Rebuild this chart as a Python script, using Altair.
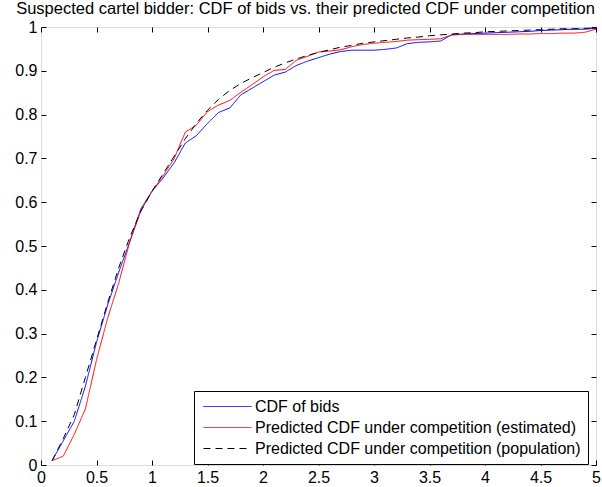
import altair as alt
import pandas as pd

X_VALUES = [0.1, 0.2, 0.3, 0.4, 0.5, 0.6, 0.7, 0.8, 0.9, 1.0,
            1.1, 1.2, 1.3, 1.4, 1.5, 1.6, 1.7, 1.8, 1.9, 2.0,
            2.1, 2.2, 2.3, 2.4, 2.5, 2.6, 2.7, 2.8, 2.9, 3.0,
            3.1, 3.2, 3.3, 3.4, 3.5, 3.6, 3.7, 3.8, 3.9, 4.0,
            4.1, 4.2, 4.3, 4.4, 4.5, 4.6, 4.7, 4.8, 4.9, 5.0]

CDF_BIDS = [0.010, 0.055, 0.100, 0.180, 0.280, 0.365, 0.440, 0.510, 0.585, 0.625,
            0.655, 0.690, 0.735, 0.752, 0.780, 0.805, 0.815, 0.845, 0.860, 0.875,
            0.890, 0.897, 0.912, 0.922, 0.930, 0.938, 0.944, 0.947, 0.947, 0.947,
            0.949, 0.952, 0.962, 0.965, 0.966, 0.968, 0.982, 0.984, 0.985, 0.986,
            0.987, 0.988, 0.989, 0.990, 0.992, 0.993, 0.994, 0.995, 0.995, 0.997]

PRED_EST = [0.010, 0.020, 0.070, 0.128, 0.240, 0.335, 0.415, 0.510, 0.580, 0.625,
            0.660, 0.700, 0.760, 0.776, 0.807, 0.822, 0.832, 0.851, 0.868, 0.886,
            0.901, 0.903, 0.924, 0.933, 0.943, 0.945, 0.948, 0.955, 0.960, 0.963,
            0.965, 0.967, 0.970, 0.971, 0.972, 0.973, 0.982, 0.983, 0.983, 0.983,
            0.983, 0.983, 0.984, 0.984, 0.985, 0.985, 0.986, 0.986, 0.988, 0.995]

PRED_POP = [0.010, 0.060, 0.115, 0.200, 0.285, 0.370, 0.450, 0.520, 0.580, 0.625,
            0.665, 0.705, 0.745, 0.780, 0.810, 0.835, 0.855, 0.871, 0.884, 0.896,
            0.908, 0.918, 0.927, 0.935, 0.942, 0.948, 0.954, 0.958, 0.963, 0.966,
            0.969, 0.972, 0.975, 0.977, 0.980, 0.982, 0.984, 0.986, 0.987, 0.989,
            0.990, 0.991, 0.992, 0.993, 0.994, 0.995, 0.996, 0.996, 0.997, 0.998]

SERIES = ["CDF of bids",
          "Predicted CDF under competition (estimated)",
          "Predicted CDF under competition (population)"]
COLORS = ["#0000ff", "#ff0000", "#000000"]
DASHES = [[1, 0], [1, 0], [7, 5]]

X_TICKS = [0, 0.5, 1, 1.5, 2, 2.5, 3, 3.5, 4, 4.5, 5]
Y_TICKS = [0, 0.1, 0.2, 0.3, 0.4, 0.5, 0.6, 0.7, 0.8, 0.9, 1]

TITLE = "Suspected cartel bidder: CDF of bids vs. their predicted CDF under competition"

rows = []
for name, vals in zip(SERIES, [CDF_BIDS, PRED_EST, PRED_POP]):
    for xv, yv in zip(X_VALUES, vals):
        rows.append({"x": xv, "y": yv, "series": name})
df = pd.DataFrame(rows)

FONT = "Liberation Sans"
xscale = alt.Scale(domain=[0, 5], nice=False, zero=False)
yscale = alt.Scale(domain=[0, 1], nice=False, zero=False)

common_axis = dict(offset=-5, tickSize=5, domain=False, grid=False, title=None,
                   tickColor="black", tickWidth=1, labelFont=FONT, labelFontSize=16,
                   labelColor="black", labelFlush=False, format="~g")

legend = alt.Legend(title=None, orient="none", legendX=153, legendY=364,
                    symbolType="M-3,0H3", symbolSize=256, symbolStrokeWidth=1,
                    symbolOffset=18, labelOffset=19, padding=7, rowPadding=4,
                    strokeColor="black", fillColor="white", cornerRadius=0,
                    labelFont=FONT, labelFontSize=16, labelColor="black", labelLimit=600)

lines = alt.Chart(df).mark_line(strokeWidth=1).encode(
    x=alt.X("x:Q", scale=xscale,
            axis=alt.Axis(orient="bottom", values=X_TICKS, labelPadding=4, **common_axis)),
    y=alt.Y("y:Q", scale=yscale,
            axis=alt.Axis(orient="left", values=Y_TICKS, labelPadding=4, **common_axis)),
    color=alt.Color("series:N", scale=alt.Scale(domain=SERIES, range=COLORS), legend=legend),
    strokeDash=alt.StrokeDash("series:N", scale=alt.Scale(domain=SERIES, range=DASHES), legend=legend),
)

ghost = alt.Chart(df).mark_line(opacity=0).encode(
    x=alt.X("x:Q", scale=xscale,
            axis=alt.Axis(orient="top", values=X_TICKS, labels=False, offset=-5, tickSize=5,
                          domain=False, grid=False, title=None, tickColor="black")),
    y=alt.Y("y:Q", scale=yscale,
            axis=alt.Axis(orient="right", values=Y_TICKS, labels=False, offset=-5, tickSize=5,
                          domain=False, grid=False, title=None, tickColor="black")),
    detail="series:N",
)

chart = alt.layer(lines, ghost).resolve_axis(x="independent", y="independent").properties(
    width=555, height=438,
    title=alt.TitleParams(text=TITLE, font=FONT, fontSize=16.5, fontWeight="normal",
                          color="black", anchor="middle", dx=-13, dy=20, offset=9,
                          baseline="alphabetic"),
    autosize=alt.AutoSizeParams(type="none"),
    padding={"left": 41, "top": 27, "right": 6, "bottom": 22},
).configure_view(stroke="black", strokeWidth=1).configure(background="white")

chart.save("out.html", embed_options={"renderer": "svg", "actions": False})
